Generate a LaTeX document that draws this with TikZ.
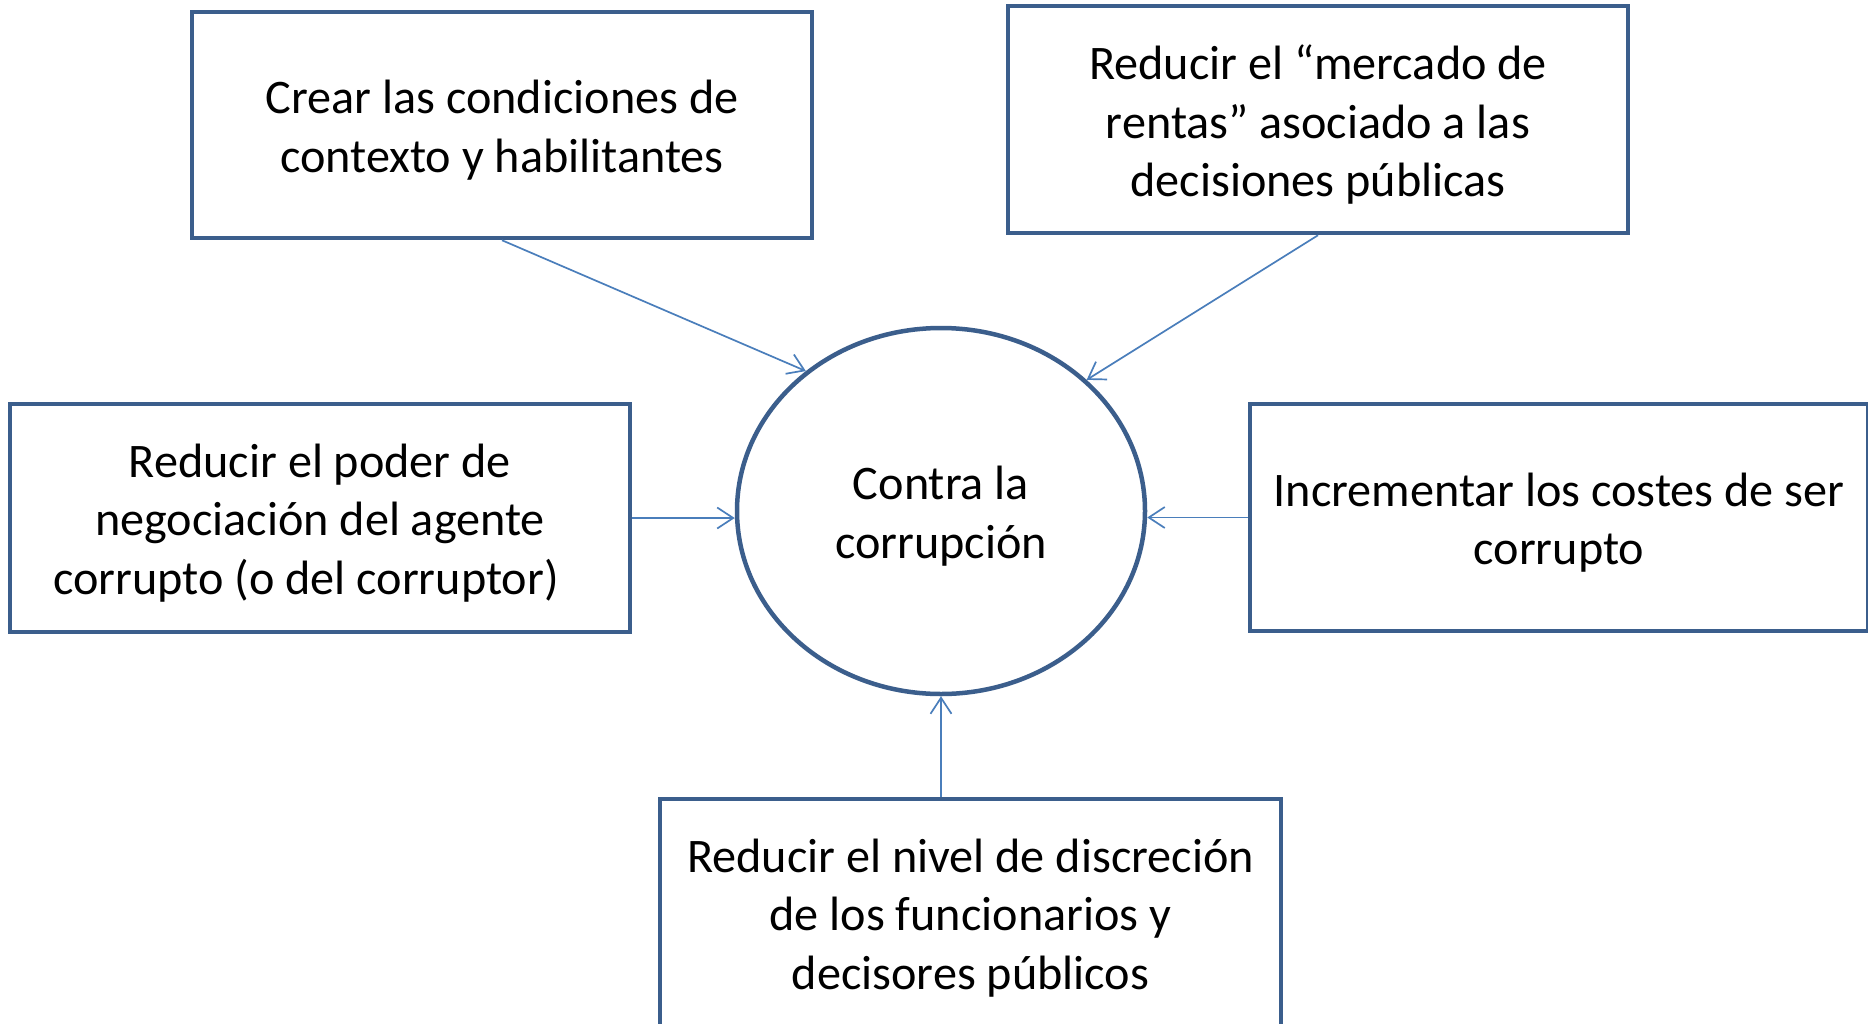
\documentclass[tikz,border=0pt]{standalone}
\usepackage{fontspec}
\setmainfont{Carlito}
\usetikzlibrary{arrows.meta,shapes.geometric}
\definecolor{boxblue}{HTML}{3B5E8C}
\definecolor{arrblue}{HTML}{4A7EBB}
\tikzset{
  txt/.style={font=\fontsize{48.2}{58.3}\selectfont, text=black, align=center, inner sep=0pt},
  box/.style={draw=boxblue, line width=4.5pt, fill=white, rectangle, inner sep=0pt},
  ellnode/.style={draw=boxblue, line width=4.5pt, ellipse, inner sep=0pt, minimum width=408pt, minimum height=366pt},
  arr/.style={draw=arrblue, line width=1.7pt, -{Straight Barb[length=16pt,width=21pt]}}
}
\begin{document}
\begin{tikzpicture}[x=1pt,y=-1pt]
\clip (0,0) rectangle (1868,1023);
\fill[white] (0,0) rectangle (1868,1023);
\node[box, minimum width=620pt, minimum height=226pt] (tl) at (502,125) {};
\node[box, minimum width=620pt, minimum height=227pt] (tr) at (1318,119.5) {};
\node[box, minimum width=620pt, minimum height=228pt] (lf) at (320,518) {};
\node[box, minimum width=618pt, minimum height=227pt] (rt) at (1559,517.5) {};
\node[box, minimum width=621pt, minimum height=228pt] (bt) at (970.5,913) {};
\node[ellnode] (ell) at (941,511) {};
\node[txt] (tlt) at ([yshift=-5pt]tl.center) {Crear las condiciones de\\contexto y habilitantes};
\node[txt] (trt) at ([yshift=-5pt]tr.center) {Reducir el “mercado de\\rentas” asociado a las\\decisiones públicas};
\node[txt] (lft) at ([yshift=-5pt]lf.center) {Reducir el poder de\\negociación del agente\\corrupto (o del corruptor)\hspace*{28pt}};
\node[txt] (rtt) at ([yshift=-5pt]rt.center) {Incrementar los costes de ser\\corrupto};
\node[txt] (btt) at ([yshift=-5pt]bt.center) {Reducir el nivel de discreción\\de los funcionarios y\\decisores públicos};
\node[txt] (ellt) at ([yshift=-5pt]ell.center) {Contra la\\corrupción};
\draw[arr] (tl.south) -- (ell.134);
\draw[arr] (tr.south) -- (ell.42);
\draw[arr] (lf.east) -- (lf.east -| ell.west);
\draw[arr] (rt.west) -- (rt.west -| ell.east);
\draw[arr] (ell.south |- bt.north) -- (ell.south);
\end{tikzpicture}
\end{document}
